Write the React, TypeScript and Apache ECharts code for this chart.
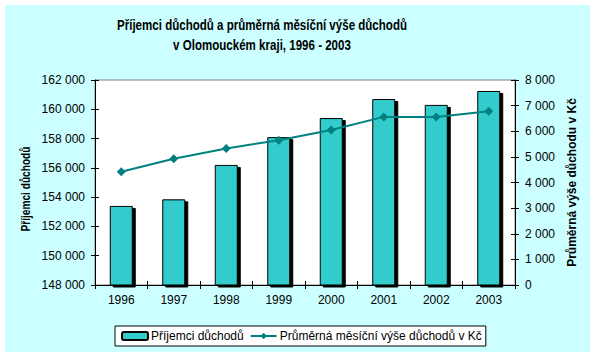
import React, { useEffect, useRef } from "react";
import * as echarts from "echarts";

const years = ["1996", "1997", "1998", "1999", "2000", "2001", "2002", "2003"];
const recipients = [153400, 153850, 156200, 158100, 159400, 160700, 160300, 161250];
const avgPension = [4420, 4930, 5330, 5650, 6050, 6560, 6560, 6780];

const titleLines = ["Příjemci důchodů a průměrná měsíční výše důchodů", "v Olomouckém kraji, 1996 - 2003"];
const seriesNames = ["Příjemci důchodů", "Průměrná měsíční výše důchodů v Kč"];
const leftAxisName = "Příjemci důchodů";
const rightAxisName = "Průměrná výše důchodu v Kč";

const FONT = "'Liberation Sans', Arial, sans-serif";

const fmt = (v: number) => String(v).replace(/\B(?=(\d{3})+(?!\d))/g, " ");

export default function App() {
  const ref = useRef<HTMLDivElement>(null);
  useEffect(() => {
    if (!ref.current) return;
    const chart = echarts.init(ref.current, null, { renderer: "svg" });
    const tickOut = { show: true, length: 4, lineStyle: { color: "#000" } };
    const tickIn = { show: true, inside: true, length: 4, lineStyle: { color: "#000" } };
    chart.setOption({
      animation: false,
      backgroundColor: "#ffffff",
      graphic: [
        {
          type: "rect",
          z: -10,
          silent: true,
          shape: { x: 5, y: 5, width: 585, height: 347 },
          style: { fill: "#ccffff" },
        },
        {
          type: "text",
          x: 262,
          y: 15,
          scaleX: 0.825,
          style: {
            text: titleLines.join("\n"),
            font: `bold 14px ${FONT}`,
            fill: "#000",
            align: "center",
            verticalAlign: "top",
            lineHeight: 20,
          },
        },
        {
          type: "text",
          x: 25,
          y: 189,
          rotation: Math.PI / 2,
          scaleX: 0.78,
          style: {
            text: leftAxisName,
            font: `bold 13px ${FONT}`,
            fill: "#000",
            align: "center",
            verticalAlign: "middle",
          },
        },
      ],
      grid: {
        left: 95,
        right: 81,
        top: 80,
        bottom: 71,
        show: true,
        backgroundColor: "#ffffff",
        borderColor: "#808080",
        borderWidth: 1,
      },
      legend: {
        left: 115,
        top: 326,
        padding: [4, 4, 4, 6],
        backgroundColor: "#ffffff",
        borderColor: "#000",
        borderWidth: 1,
        borderRadius: 0,
        itemWidth: 26,
        itemHeight: 8,
        itemGap: 6,
        textStyle: { fontFamily: FONT, fontSize: 12, color: "#000", padding: [0, 0, 0, -2] },
        data: seriesNames,
      },
      xAxis: [
        {
          type: "category",
          data: years,
          boundaryGap: true,
          axisLine: { lineStyle: { color: "#000" } },
          axisTick: tickOut,
          axisLabel: { fontFamily: FONT, fontSize: 12, color: "#000", margin: 9 },
          splitLine: { show: false },
        },
        {
          type: "category",
          data: years,
          position: "bottom",
          boundaryGap: true,
          axisLine: { show: false },
          axisTick: tickIn,
          axisLabel: { show: false },
          splitLine: { show: false },
        },
      ],
      yAxis: [
        {
          type: "value",
          min: 148000,
          max: 162000,
          interval: 2000,
          position: "left",
          axisLine: { show: true, lineStyle: { color: "#000" } },
          axisTick: tickOut,
          axisLabel: { fontFamily: FONT, fontSize: 12, color: "#000", margin: 10, formatter: fmt },
          splitLine: { show: false },
        },
        {
          type: "value",
          min: 0,
          max: 8000,
          interval: 1000,
          position: "right",
          name: rightAxisName,
          nameLocation: "middle",
          nameGap: 48,
          nameRotate: 90,
          nameTextStyle: { fontFamily: FONT, fontWeight: "bold", fontSize: 12, color: "#000" },
          axisLine: { show: true, lineStyle: { color: "#000" } },
          axisTick: tickOut,
          axisLabel: { fontFamily: FONT, fontSize: 12, color: "#000", margin: 10, formatter: fmt },
          splitLine: { show: false },
        },
        {
          type: "value",
          min: 148000,
          max: 162000,
          interval: 2000,
          position: "left",
          axisLine: { show: false },
          axisTick: tickIn,
          axisLabel: { show: false },
          splitLine: { show: false },
        },
        {
          type: "value",
          min: 0,
          max: 8000,
          interval: 1000,
          position: "right",
          axisLine: { show: false },
          axisTick: tickIn,
          axisLabel: { show: false },
          splitLine: { show: false },
        },
      ],
      series: [
        {
          name: seriesNames[0],
          type: "bar",
          xAxisIndex: 0,
          yAxisIndex: 0,
          data: recipients,
          barWidth: 23,
          itemStyle: {
            color: "#33cccc",
            borderColor: "#000",
            borderWidth: 1,
            shadowColor: "#000",
            shadowBlur: 0,
            shadowOffsetX: 3,
            shadowOffsetY: 2,
          },
        },
        {
          name: seriesNames[1],
          type: "line",
          xAxisIndex: 0,
          yAxisIndex: 1,
          data: avgPension,
          symbol: "diamond",
          symbolSize: 9,
          lineStyle: { color: "#008080", width: 2 },
          itemStyle: { color: "#008080" },
        },
      ],
    });
    return () => chart.dispose();
  }, []);
  return (
    <div
      ref={ref}
      style={{ position: "fixed", left: 0, top: 0, width: 596, height: 356 }}
    />
  );
}
